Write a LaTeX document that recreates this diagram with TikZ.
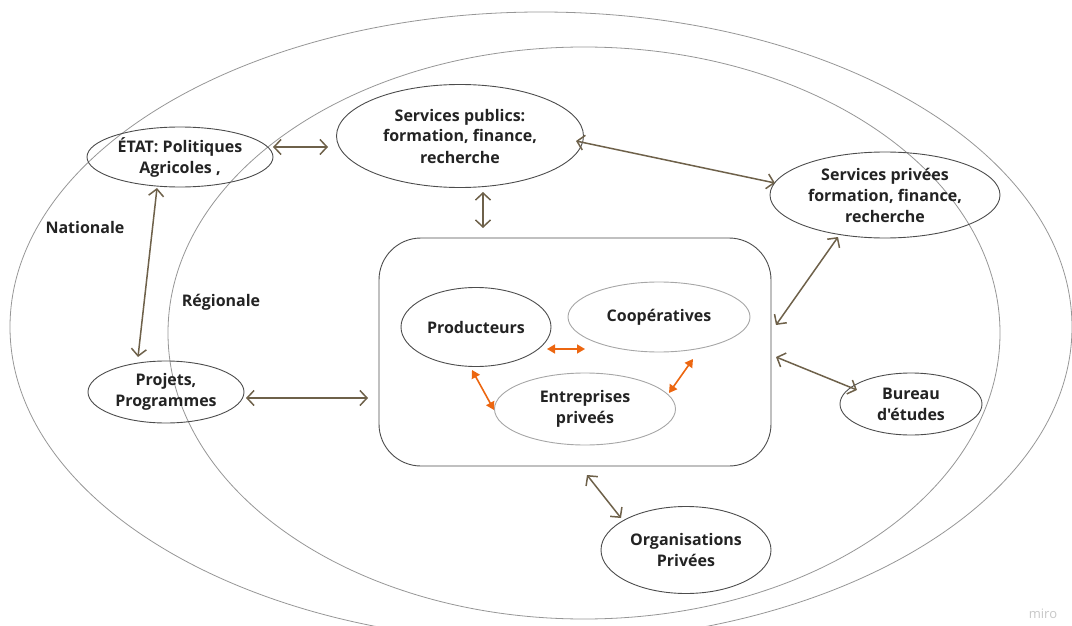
\documentclass[tikz,border=0pt]{standalone}
\usepackage{fontspec}
\newfontfamily\osans{Open Sans}
\usetikzlibrary{shapes.geometric,arrows.meta}
\definecolor{brn}{RGB}{110,97,74}
\definecolor{org}{RGB}{236,102,16}
\definecolor{txt}{RGB}{35,35,35}
\definecolor{ring}{RGB}{150,150,150}
\tikzset{
  el/.style={ellipse,draw=black!70,line width=0.9pt,inner sep=0pt,align=center,
    font=\osans\fontsize{16}{21}\selectfont\bfseries,text=txt},
  lel/.style={el,draw=black!35},
  lab/.style={font=\osans\fontsize{16}{21}\selectfont\bfseries,text=txt},
  barr/.style={draw=brn,line width=1.5pt,{Straight Barb[length=7pt,width=15pt]}-{Straight Barb[length=7pt,width=15pt]}},
  oarr/.style={draw=org,line width=1.6pt,{Triangle[length=8pt,width=9pt]}-{Triangle[length=8pt,width=9pt]}},
  zone/.style={draw=ring,line width=0.8pt}
}
\begin{document}
\begin{tikzpicture}[x=1pt,y=-1pt]
\useasboundingbox (0,0) rectangle (1072,626);
\begin{scope}
\clip (0,0) rectangle (1072,626);
\draw[zone] (541,327) ellipse [x radius=531,y radius=315];
\draw[zone] (584,333) ellipse [x radius=416,y radius=286];
\end{scope}
\node[lab] (nat) at (85,227) {Nationale};
\node[lab] (reg) at (221,302) {Régionale};
\node[draw=black!70,line width=0.9pt,rounded corners=42pt,minimum width=392pt,minimum height=228pt] (box) at (575,352) {};
\node[el,minimum width=186pt,minimum height=60pt] (etat) at (180,157) {ÉTAT: Politiques\\Agricoles ,};
\node[el,minimum width=247pt,minimum height=103pt] (spub) at (460,136) {Services publics:\\formation, finance,\\recherche};
\node[el,minimum width=230pt,minimum height=86pt] (spriv) at (885,195) {Services privées\\formation, finance,\\recherche};
\node[el,minimum width=156pt,minimum height=62pt] (proj) at (166,392) {Projets,\\Programmes};
\node[el,minimum width=142pt,minimum height=62pt] (bur) at (911,404) {Bureau\\d'études};
\node[el,minimum width=170pt,minimum height=87pt] (orgp) at (686,550) {Organisations\\Privées};
\node[el,minimum width=150pt,minimum height=79pt] (prod) at (476,327) {Producteurs};
\node[lel,minimum width=182pt,minimum height=70pt] (coop) at (659,317) {Coopératives};
\node[lel,minimum width=181pt,minimum height=72pt] (entr) at (585,409) {Entreprises\\priveés};
\node[font=\osans\fontsize{13}{15}\selectfont,text=black!22] (miro) at (1043,614) {miro};
% brown connectors
\coordinate (a1) at (273,147); \coordinate (a2) at (328,147);
\draw[barr] (a1) -- (a2);
\coordinate (b1) at (576,141); \coordinate (b2) at (775,183);
\draw[barr] (b1) -- (b2);
\coordinate (c1) at (483,192); \coordinate (c2) at (483,228);
\draw[barr] (c1) -- (c2);
\coordinate (d1) at (157,188); \coordinate (d2) at (138,357);
\draw[barr] (d1) -- (d2);
\coordinate (e1) at (246,398); \coordinate (e2) at (368,398);
\draw[barr] (e1) -- (e2);
\coordinate (f1) at (838,237); \coordinate (f2) at (776,325);
\draw[barr] (f1) -- (f2);
\coordinate (g1) at (776,357); \coordinate (g2) at (857,390);
\draw[barr] (g1) -- (g2);
\coordinate (h1) at (587,475); \coordinate (h2) at (621,518);
\draw[barr] (h1) -- (h2);
% orange connectors
\coordinate (p1) at (547,349); \coordinate (p2) at (585,349);
\draw[oarr] (p1) -- (p2);
\coordinate (q1) at (472,370); \coordinate (q2) at (494,410);
\draw[oarr] (q1) -- (q2);
\coordinate (r1) at (693,359); \coordinate (r2) at (669,393);
\draw[oarr] (r1) -- (r2);
\end{tikzpicture}
\end{document}
